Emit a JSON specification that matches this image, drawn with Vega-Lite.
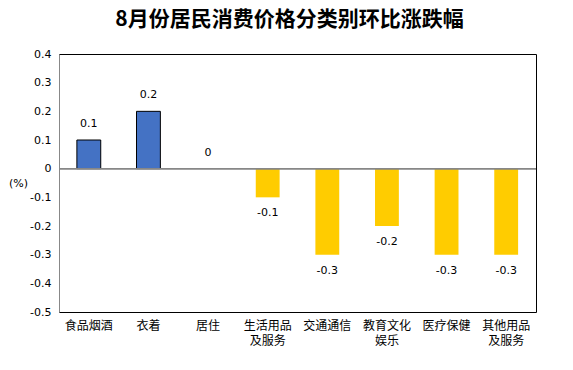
{
  "$schema": "https://vega.github.io/schema/vega-lite/v6.json",
  "autosize": {"type": "none"},
  "width": 477,
  "height": 258,
  "padding": {"left": 59, "top": 54, "right": 37, "bottom": 58},
  "background": "white",
  "title": {
    "text": "8月份居民消费价格分类别环比涨跌幅",
    "font": "Noto Sans CJK SC",
    "fontSize": 21,
    "fontWeight": "bold",
    "color": "#000000",
    "anchor": "middle",
    "dx": -8,
    "offset": 18
  },
  "config": {
    "view": {"stroke": "#000000", "strokeWidth": 1},
    "axis": {"grid": false, "ticks": false}
  },
  "data": {
    "values": [
      {"category": "食品烟酒", "value": 0.1},
      {"category": "衣着", "value": 0.2},
      {"category": "居住", "value": 0},
      {"category": "生活用品及服务", "value": -0.1},
      {"category": "交通通信", "value": -0.3},
      {"category": "教育文化娱乐", "value": -0.2},
      {"category": "医疗保健", "value": -0.3},
      {"category": "其他用品及服务", "value": -0.3}
    ]
  },
  "transform": [
    {"calculate": "replace(format(datum.value, '.1~f'), '\u2212', '-')", "as": "label"}
  ],
  "encoding": {
    "x": {
      "field": "category",
      "type": "nominal",
      "sort": null,
      "scale": {"paddingInner": 0.6, "paddingOuter": 0.3},
      "axis": {
        "title": null,
        "orient": "bottom",
        "domain": false,
        "labelAngle": 0,
        "labelFont": "Noto Sans CJK SC",
        "labelFontSize": 12,
        "labelColor": "#000000",
        "labelPadding": 8,
        "labelLineHeight": 15,
        "labelOverlap": false,
        "labelExpr": "length(datum.label) > 4 ? [substring(datum.label, 0, 4), substring(datum.label, 4)] : datum.label"
      }
    },
    "y": {
      "field": "value",
      "type": "quantitative",
      "scale": {"domain": [-0.5, 0.4], "nice": false},
      "axis": {
        "values": [-0.5, -0.4, -0.3, -0.2, -0.1, 0, 0.1, 0.2, 0.3, 0.4],
        "labelExpr": "datum.value == 0 ? '0' : replace(format(datum.value, '.1f'), '\u2212', '-')",
        "labelFont": "DejaVu Sans",
        "labelFontSize": 11,
        "labelColor": "#000000",
        "labelPadding": 8,
        "domainColor": "#888888",
        "title": "(%)",
        "titleFont": "DejaVu Sans",
        "titleFontSize": 11,
        "titleFontWeight": "normal",
        "titleAngle": 0,
        "titleAlign": "center",
        "titleBaseline": "middle",
        "titleX": -41,
        "titleY": 129
      }
    }
  },
  "layer": [
    {
      "mark": {"type": "bar", "strokeWidth": 1},
      "encoding": {
        "color": {
          "condition": {"test": "datum.value >= 0", "value": "#4472C4"},
          "value": "#FFCC00"
        },
        "stroke": {
          "condition": {"test": "datum.value > 0", "value": "#000000"},
          "value": null
        }
      }
    },
    {
      "mark": {"type": "rule", "color": "#888888", "strokeWidth": 1},
      "encoding": {"y": {"datum": 0}, "x": null}
    },
    {
      "transform": [{"filter": "datum.value >= 0"}],
      "mark": {"type": "text", "font": "DejaVu Sans", "fontSize": 11, "color": "#000000", "baseline": "middle", "dy": -16},
      "encoding": {"text": {"field": "label", "type": "nominal"}}
    },
    {
      "transform": [{"filter": "datum.value < 0"}],
      "mark": {"type": "text", "font": "DejaVu Sans", "fontSize": 11, "color": "#000000", "baseline": "middle", "dy": 16},
      "encoding": {"text": {"field": "label", "type": "nominal"}}
    }
  ]
}
